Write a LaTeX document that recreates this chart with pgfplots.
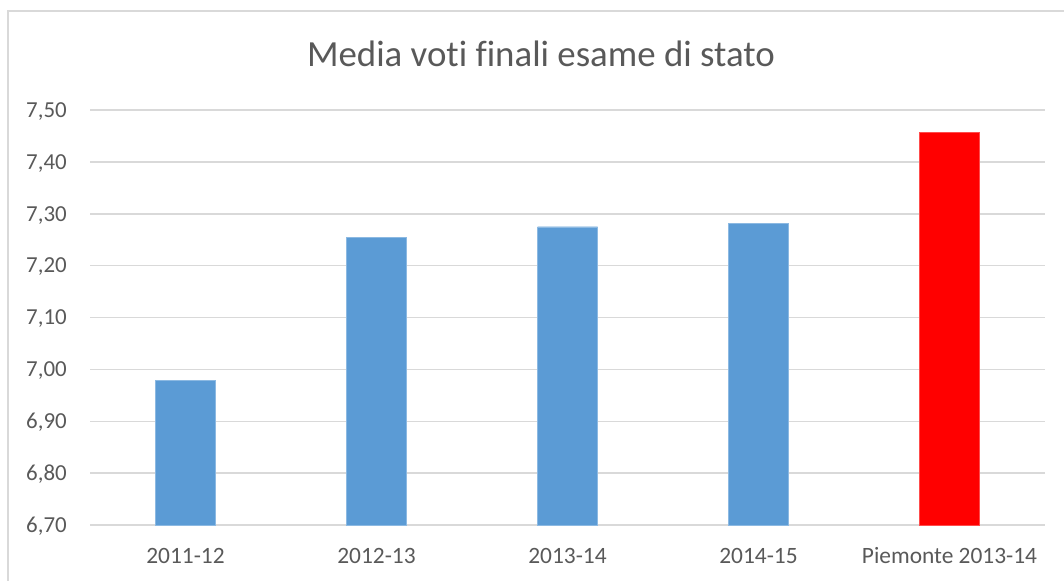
\documentclass[border=0pt]{standalone}
\usepackage{fontspec}
\setmainfont{Carlito}[Ligatures=NoCommon]
\usepackage{pgfplots}
\pgfplotsset{compat=1.18}
\definecolor{barblue}{HTML}{5B9BD5}
\definecolor{barred}{HTML}{FF0000}
\definecolor{txtgray}{HTML}{595959}
\definecolor{gridgray}{HTML}{D9D9D9}
\begin{document}
\begin{tikzpicture}[x=1bp,y=1bp]
\useasboundingbox (0,0) rectangle (1064,-581);
\draw[color=gridgray, line width=1.5bp] (8,-581) -- (8,-11) -- (1064,-11);
\node[anchor=base, text=txtgray, inner sep=0pt, font=\fontsize{37}{42}\selectfont] at (541,-67) {Media voti finali esame di stato};
\begin{axis}[
  at={(90bp,-525bp)}, anchor=south west,
  scale only axis, width=955bp, height=415bp,
  ymin=6.7, ymax=7.5, xmin=-0.5, xmax=4.5,
  ytick={6.7,6.8,6.9,7.0,7.1,7.2,7.3,7.4,7.5},
  xtick={0,1,2,3,4},
  xticklabels={2011-12,2012-13,2013-14,2014-15,Piemonte 2013-14},
  axis line style={draw=none},
  major tick length=0pt,
  ymajorgrids, grid style={color=gridgray, line width=1.5bp},
  /pgf/number format/fixed,
  /pgf/number format/fixed zerofill,
  /pgf/number format/precision=2,
  /pgf/number format/use comma,
  /pgf/number format/assume math mode=true,
  every y tick label/.style={anchor=base east, inner sep=0pt, xshift=-23bp, yshift=-7.3bp, text=txtgray, font=\fontsize{23}{27}\selectfont},
  every x tick label/.style={anchor=base, inner sep=0pt, yshift=-38bp, text=txtgray, font=\fontsize{23.5}{27}\selectfont},
  ybar, bar width=60bp,
]
\addplot[fill=barblue, draw=barblue!70!white, bar shift=0pt] coordinates {(0,6.979) (1,7.254) (2,7.275) (3,7.282)};
\addplot[fill=barred, draw=barred!70!white, bar shift=0pt] coordinates {(4,7.457)};
\end{axis}
\end{tikzpicture}
\end{document}
